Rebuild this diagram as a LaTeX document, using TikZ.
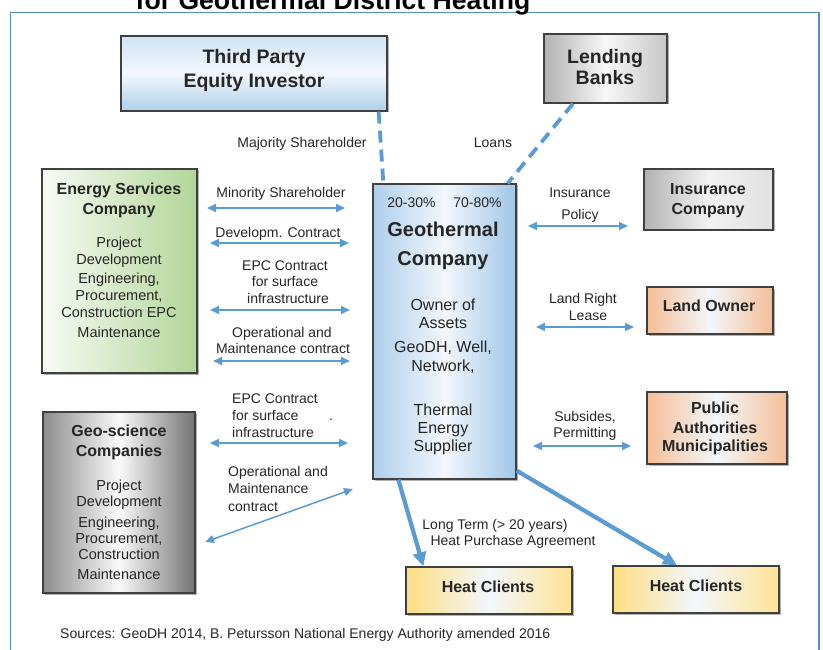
\documentclass[tikz,border=0pt]{standalone}
\usepackage{fontspec}
\setmainfont{Liberation Sans}
\usetikzlibrary{arrows.meta,shadows}
\definecolor{arrowblue}{RGB}{91,155,213}
\definecolor{frameblue}{RGB}{84,141,212}
\definecolor{geoblue}{RGB}{160,198,232}
\definecolor{tpblue}{RGB}{170,205,235}
\definecolor{esgreen}{RGB}{178,214,152}
\definecolor{peach}{RGB}{245,190,150}
\definecolor{hcyellow}{RGB}{255,222,130}
\definecolor{paleblue}{RGB}{242,247,252}
\tikzset{
  box/.style={draw=black!75, line width=1.3pt, inner sep=0pt,
    drop shadow={shadow xshift=1.5pt, shadow yshift=-1.5pt, opacity=0.3, fill=black}},
  lab/.style={font=\fontsize{14}{16}\selectfont, inner sep=0pt, text height=10pt, text depth=0pt, text=black!85},
  bod/.style={font=\fontsize{14.5}{16}\selectfont, inner sep=0pt, text height=10.4pt, text depth=0pt, text=black!85},
  gbod/.style={font=\fontsize{16}{18}\selectfont, inner sep=0pt, text height=11.5pt, text depth=0pt, text=black!85},
  ttl/.style={font=\bfseries\fontsize{16}{18}\selectfont, inner sep=0pt, text height=11.5pt, text depth=0pt, text=black!85},
  big/.style={font=\bfseries\fontsize{19.5}{22}\selectfont, inner sep=0pt, text height=14pt, text depth=0pt, text=black!85},
  dbl/.style={arrowblue, line width=1.8pt, >={Triangle[length=9pt,width=8pt]}, <->},
  thick arrow/.style={arrowblue, line width=4.2pt, -{Triangle[length=14pt,width=13pt]}},
  dashlink/.style={arrowblue, line width=3.8pt, dash pattern=on 12pt off 7pt},
}
\begin{document}
\begin{tikzpicture}[x=1pt,y=-1pt]
\useasboundingbox (0,0) rectangle (823,650);
\clip (0,0) rectangle (823,650);
\fill[white] (0,0) rectangle (823,650);
\draw[frameblue, line width=1.6pt] (10.5,700) -- (10.5,12.7) -- (819,12.7) -- (819,700);
\node[font=\bfseries\fontsize{26.6}{30}\selectfont, anchor=base, inner sep=0pt] (title) at (333,9.5) {for Geothermal District Heating};

% boxes
\node[box, minimum width=266pt, minimum height=75pt, top color=tpblue!55, bottom color=tpblue!95, middle color=paleblue] (tp) at (254,73.5) {};
\node[box, minimum width=123pt, minimum height=69pt, left color=black!30, right color=black!22, middle color=black!3] (lb) at (605.5,68.5) {};
\node[box, minimum width=143pt, minimum height=295pt, left color=geoblue!85, right color=geoblue, middle color=paleblue] (geo) at (444.5,331.5) {};
\node[box, minimum width=155pt, minimum height=204pt, left color=esgreen!10, right color=esgreen] (es) at (119.5,271) {};
\node[box, minimum width=152pt, minimum height=181pt, left color=black!45, right color=black!55, middle color=black!2] (gs) at (119,502.5) {};
\node[box, minimum width=129pt, minimum height=61pt, left color=black!30, right color=black!12, middle color=black!5] (ins) at (708.5,199.5) {};
\node[box, minimum width=126pt, minimum height=47pt, left color=peach, right color=peach, middle color=paleblue] (lo) at (710,310.5) {};
\node[box, minimum width=140pt, minimum height=72pt, left color=peach, right color=peach, middle color=paleblue] (pa) at (717,428) {};
\node[box, minimum width=166pt, minimum height=47pt, left color=hcyellow, right color=hcyellow!85!white, middle color=paleblue] (hc1) at (489,590.5) {};
\node[box, minimum width=166pt, minimum height=47pt, left color=hcyellow, right color=hcyellow!85!white, middle color=paleblue] (hc2) at (696,589.5) {};

% box texts
\node[big] (tp1) at (254,57) {Third Party};
\node[big] (tp2) at (254,81) {Equity Investor};
\node[big] (lb1) at (605,57) {Lending};
\node[big] (lb2) at (605,78) {Banks};

\node[ttl] (es1) at (119,189) {Energy Services};
\node[ttl] (es2) at (119,209) {Company};
\node[bod] (es3) at (119,242) {Project};
\node[bod] (es4) at (119,259) {Development};
\node[bod] (es5) at (119,278) {Engineering,};
\node[bod] (es6) at (119,295) {Procurement,};
\node[bod] (es7) at (119,312) {Construction EPC};
\node[bod] (es8) at (119,332) {Maintenance};

\node[ttl] (gs1) at (119,431) {Geo-science};
\node[ttl] (gs2) at (119,451) {Companies};
\node[bod] (gs3) at (119,485) {Project};
\node[bod] (gs4) at (119,501) {Development};
\node[bod] (gs5) at (119,522) {Engineering,};
\node[bod] (gs6) at (119,538) {Procurement,};
\node[bod] (gs7) at (119,554) {Construction};
\node[bod] (gs8) at (119,574) {Maintenance};

\node[lab] (pc1) at (411.5,203) {20-30\%};
\node[lab] (pc2) at (477.5,203) {70-80\%};
\node[font=\bfseries\fontsize{20}{22}\selectfont, inner sep=0pt, text height=14.4pt, text depth=0pt, text=black!85] (g1) at (443,229) {Geothermal};
\node[font=\bfseries\fontsize{20}{22}\selectfont, inner sep=0pt, text height=14.4pt, text depth=0pt, text=black!85] (g2) at (443,258) {Company};
\node[gbod] (g3) at (443,305) {Owner of};
\node[gbod] (g4) at (443,323) {Assets};
\node[gbod] (g5) at (443,347) {GeoDH, Well,};
\node[gbod] (g6) at (443,366) {Network,};
\node[gbod] (g7) at (443,410) {Thermal};
\node[gbod] (g8) at (443,428) {Energy};
\node[gbod] (g9) at (443,446) {Supplier};

\node[ttl] (ins1) at (708,189) {Insurance};
\node[ttl] (ins2) at (708,209) {Company};
\node[ttl] (lo1) at (709,306) {Land Owner};
\node[ttl] (pa1) at (715,408) {Public};
\node[ttl] (pa2) at (715,428) {Authorities};
\node[ttl] (pa3) at (715,446) {Municipalities};
\node[ttl] (hct1) at (488,587) {Heat Clients};
\node[ttl] (hct2) at (696,586) {Heat Clients};

% labels
\node[lab] (l1) at (302,143) {Majority Shareholder};
\node[lab] (l2) at (493,143) {Loans};
\node[lab] (l3) at (281,193) {Minority Shareholder};
\node[lab] (l4) at (278,232) {Developm. Contract};
\node[lab] (l5) at (285,265) {EPC Contract};
\node[lab] (l6) at (285,282) {for surface};
\node[lab] (l7) at (288,298) {infrastructure};
\node[lab] (l8) at (282,332) {Operational and};
\node[lab] (l9) at (283,348) {Maintenance contract};
\node[lab, anchor=west] (l10) at (232,398) {EPC Contract};
\node[lab, anchor=west] (l11) at (232,415) {for surface};
\node[lab, anchor=west] (l12) at (232,432) {infrastructure};
\node[lab, anchor=west] (l13) at (329,415) {.};
\node[lab, anchor=west] (l14) at (228,471) {Operational and};
\node[lab, anchor=west] (l15) at (228,488) {Maintenance};
\node[lab, anchor=west] (l16) at (228,506) {contract};
\node[lab] (r1) at (580,193) {Insurance};
\node[lab] (r2) at (580,215) {Policy};
\node[lab] (r3) at (583,298) {Land Right};
\node[lab] (r4) at (588,315) {Lease};
\node[lab] (r5) at (585,416) {Subsides,};
\node[lab] (r6) at (585,432) {Permitting};
\node[lab] (lt1) at (495,524) {Long Term (> 20 years)};
\node[lab] (lt2) at (513,540) {Heat Purchase Agreement};
\node[lab, anchor=west] (src) at (60,633) {Sources: GeoDH 2014, B. Petursson National Energy Authority amended 2016};

% dashed ownership links
\draw[dashlink] ([xshift=-9pt]tp.south east) -- ([xshift=11pt]geo.north west);
\draw[dashlink] ([xshift=-32.5pt]lb.south) -- ([xshift=-9pt]geo.north east);

% double arrows
\coordinate (a1l) at (207,208); \coordinate (a1r) at (345,208);
\coordinate (a2l) at (210,243); \coordinate (a2r) at (349,243);
\coordinate (a3l) at (210,310); \coordinate (a3r) at (350,310);
\coordinate (a4l) at (213,361); \coordinate (a4r) at (350,361);
\coordinate (a5l) at (210,443); \coordinate (a5r) at (348,443);
\coordinate (a6l) at (205,542); \coordinate (a6r) at (353,489);
\coordinate (b1l) at (528,226); \coordinate (b1r) at (628,226);
\coordinate (b2l) at (536,327); \coordinate (b2r) at (634,327);
\coordinate (b3l) at (533,446); \coordinate (b3r) at (631,446);
\draw[dbl] (a1l) -- (a1r);
\draw[dbl] (a2l) -- (a2r);
\draw[dbl] (a3l) -- (a3r);
\draw[dbl] (a4l) -- (a4r);
\draw[dbl] (a5l) -- (a5r);
\draw[dbl, line width=1.5pt] (a6l) -- (a6r);
\draw[dbl] (b1l) -- (b1r);
\draw[dbl] (b2l) -- (b2r);
\draw[dbl] (b3l) -- (b3r);

% heat supply arrows
\draw[thick arrow] ([xshift=26pt]geo.south west) -- ([xshift=18pt]hc1.north west);
\draw[thick arrow] ([yshift=9pt]geo.south east) -- ([xshift=-19pt]hc2.north);
\end{tikzpicture}
\end{document}
